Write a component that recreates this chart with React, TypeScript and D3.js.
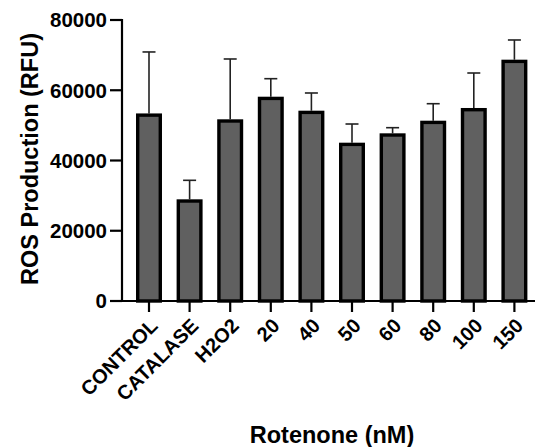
import React, { useEffect, useRef } from "react";
import * as d3 from "d3";

// values
const categories = ["CONTROL", "CATALASE", "H2O2", "20", "40", "50", "60", "80", "100", "150"];
const means = [53400, 28950, 51730, 58160, 54180, 45070, 47740, 51330, 54950, 68700];
const upperErrors = [70900, 34360, 68900, 63290, 59220, 50390, 49340, 56170, 64910, 74310];
const yTicks = [0, 20000, 40000, 60000, 80000];

const WIDTH = 535;
const HEIGHT = 447;
const FONT = "'Liberation Sans', Arial, Helvetica, sans-serif";

function App() {
  const svgRef = useRef<SVGSVGElement>(null);

  useEffect(() => {
    if (!svgRef.current) return;
    const svg = d3.select(svgRef.current);
    svg.selectAll("*").remove();

    const axisX = 122;
    const axisY = 301;

    // y scale
    const y = d3.scaleLinear().domain([0, 80000]).range([axisY, 20]);

    // band scale for the bars
    const x = d3
      .scaleBand<string>()
      .domain(categories)
      .range([128.7, 534.7])
      .paddingInner(0.36)
      .paddingOuter(0.18);

    const data = categories.map((c, i) => ({ name: c, mean: means[i], hi: upperErrors[i] }));

    // error bars (upper only), drawn behind the bars
    const err = svg.append("g");
    data.forEach((d) => {
      const cx = (x(d.name) ?? 0) + x.bandwidth() / 2;
      err
        .append("line")
        .attr("x1", cx)
        .attr("x2", cx)
        .attr("y1", y(d.mean))
        .attr("y2", y(d.hi))
        .attr("stroke", "#222")
        .attr("stroke-width", 1.6);
      err
        .append("line")
        .attr("x1", cx - 6.5)
        .attr("x2", cx + 6.5)
        .attr("y1", y(d.hi))
        .attr("y2", y(d.hi))
        .attr("stroke", "#222")
        .attr("stroke-width", 1.6);
    });

    // bars
    const sw = 3.4;
    svg
      .append("g")
      .selectAll("rect")
      .data(data)
      .enter()
      .append("rect")
      .attr("x", (d) => (x(d.name) ?? 0) + sw / 2)
      .attr("y", (d) => y(d.mean) + sw / 2)
      .attr("width", x.bandwidth() - sw)
      .attr("height", (d) => axisY - y(d.mean) - sw / 2)
      .attr("fill", "#606060")
      .attr("stroke", "#000")
      .attr("stroke-width", sw);

    // y axis
    const yAxis = svg.append("g");
    yAxis
      .append("line")
      .attr("x1", axisX)
      .attr("x2", axisX)
      .attr("y1", y(80000) - 1)
      .attr("y2", axisY + 1)
      .attr("stroke", "#000")
      .attr("stroke-width", 2.2);
    yTicks.forEach((t) => {
      yAxis
        .append("line")
        .attr("x1", 110)
        .attr("x2", axisX)
        .attr("y1", y(t))
        .attr("y2", y(t))
        .attr("stroke", "#000")
        .attr("stroke-width", 2.2);
      yAxis
        .append("text")
        .attr("x", 107)
        .attr("y", y(t))
        .attr("dy", "0.36em")
        .attr("text-anchor", "end")
        .style("font-family", FONT)
        .style("font-weight", "bold")
        .style("font-size", "20.5px")
        .text(String(t));
    });

    // x axis
    const xAxis = svg.append("g");
    xAxis
      .append("line")
      .attr("x1", axisX - 1)
      .attr("x2", 535)
      .attr("y1", axisY)
      .attr("y2", axisY)
      .attr("stroke", "#000")
      .attr("stroke-width", 2.2);
    categories.forEach((c) => {
      const cx = (x(c) ?? 0) + x.bandwidth() / 2;
      xAxis
        .append("line")
        .attr("x1", cx)
        .attr("x2", cx)
        .attr("y1", axisY)
        .attr("y2", axisY + 11)
        .attr("stroke", "#000")
        .attr("stroke-width", 2.2);
      xAxis
        .append("text")
        .attr("transform", `translate(${cx + 10}, ${axisY + 26}) rotate(-45)`)
        .attr("text-anchor", "end")
        .style("font-family", FONT)
        .style("font-weight", "bold")
        .style("font-size", "20px")
        .text(c);
    });

    // axis titles
    svg
      .append("text")
      .attr("transform", `translate(38, 159) rotate(-90)`)
      .attr("text-anchor", "middle")
      .style("font-family", FONT)
      .style("font-weight", "bold")
      .style("font-size", "23.5px")
      .text("ROS Production (RFU)");

    svg
      .append("text")
      .attr("x", 332)
      .attr("y", 443)
      .attr("text-anchor", "middle")
      .style("font-family", FONT)
      .style("font-weight", "bold")
      .style("font-size", "23.5px")
      .text("Rotenone (nM)");
  }, []);

  return (
    <svg
      ref={svgRef}
      width={WIDTH}
      height={HEIGHT}
      style={{ position: "absolute", left: 0, top: 0, background: "#fff" }}
    ></svg>
  );
}

export default App;
